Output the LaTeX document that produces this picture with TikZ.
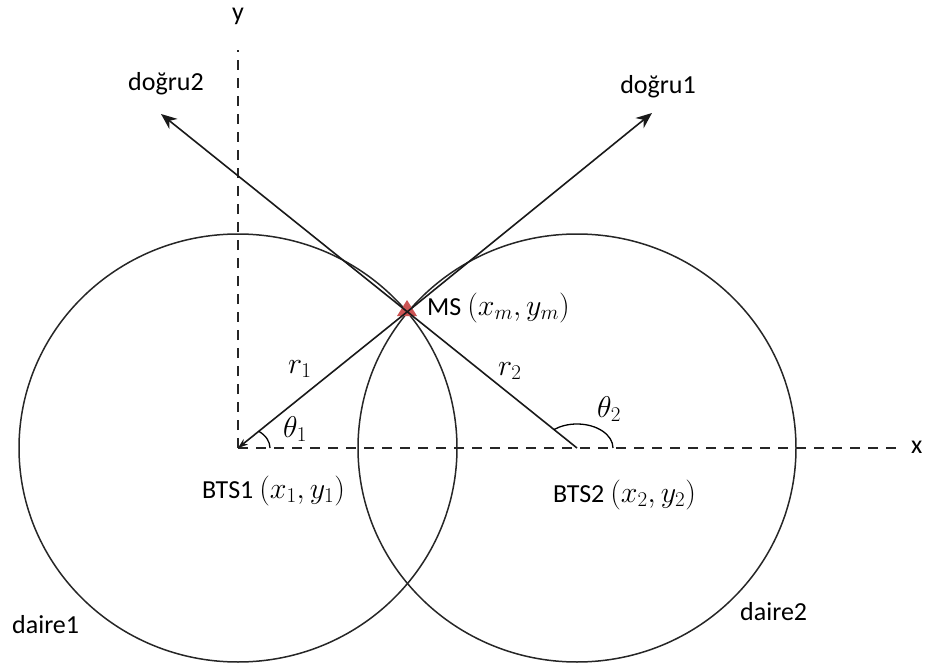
\RequirePackage{fix-cm}
\documentclass[tikz,border=0pt]{standalone}
\usepackage{fontspec}
\setmainfont{Carlito}
\usetikzlibrary{arrows.meta}

\begin{document}
\begin{tikzpicture}[x=1pt, y=-1pt, >={Stealth[length=16pt, width=13pt]}, font=\fontsize{26}{30}\selectfont,
		axis/.style={line width=1.9pt, black!85, dash pattern=on 10pt off 8pt},
		ring/.style={line width=1.5pt, black!85},
		ray/.style={line width=1.6pt, black!90},
		lbl/.style={anchor=base west, inner sep=0pt},
		mlbl/.style={lbl, font=\fontsize{30}{34}\selectfont}]
	\definecolor{msred}{RGB}{204, 84, 84}
	\useasboundingbox (0,0) rectangle (927,666);
	\coordinate (BTS1) at (238,448);
	\coordinate (BTS2) at (577,448);
	\coordinate (MS) at (407,312);
	\coordinate (yend) at (238,50);
	\coordinate (xend) at (897,448);
	\coordinate (d1end) at (652,113);
	\coordinate (d2end) at (161,114);
	\draw[axis] (BTS1) -- (yend);
	\draw[axis] (BTS1) -- (xend);
	\draw[ring] (BTS1) ellipse [x radius=219, y radius=214];
	\draw[ring] (BTS2) ellipse [x radius=219, y radius=214];
	\fill[msred] (397,316) -- (417,316) -- (407,300) -- cycle;
	\draw[ray, -{Stealth[length=10pt, width=7pt]}] (MS) -- (BTS1);
	\draw[ray, ->] (MS) -- (d1end);
	\draw[ray, ->] (BTS2) -- (d2end);
	\draw[line width=1.3pt] ([xshift=32pt]BTS1) arc[start angle=0, end angle=-49.5, x radius=32, y radius=22];
	\draw[line width=1.3pt] ([xshift=36pt]BTS2) arc[start angle=0, end angle=-129.8, x radius=36, y radius=24];
	\node[anchor=base, inner sep=0pt] (ylbl) at (238,21) {y};
	\node[anchor=base west, inner sep=0pt] (xlbl) at (911,453) {x};
	\node[anchor=base, inner sep=0pt] (d2lbl) at (166,91) {doğru2};
	\node[anchor=base, inner sep=0pt] (d1lbl) at (658,94) {doğru1};
	\node[lbl] (mslbl) at (427,315) {MS {\fontsize{30}{34}\selectfont\((x_m,y_m)\)}};
	\node[mlbl] (r1lbl) at (288,373) {\(r_1\)};
	\node[mlbl] (r2lbl) at (498,375) {\(r_2\)};
	\node[mlbl] (t1lbl) at (283,437) {\(\theta_1\)};
	\node[mlbl] (t2lbl) at (597,417) {\(\theta_2\)};
	\node[lbl] (b1lbl) at (202,498) {BTS1 {\fontsize{30}{34}\selectfont\((x_1,y_1)\)}};
	\node[lbl] (b2lbl) at (553,502) {BTS2 {\fontsize{30}{34}\selectfont\((x_2,y_2)\)}};
	\node[lbl] (c1lbl) at (12,633) {daire1};
	\node[lbl] (c2lbl) at (740,620) {daire2};
\end{tikzpicture}
\end{document}
